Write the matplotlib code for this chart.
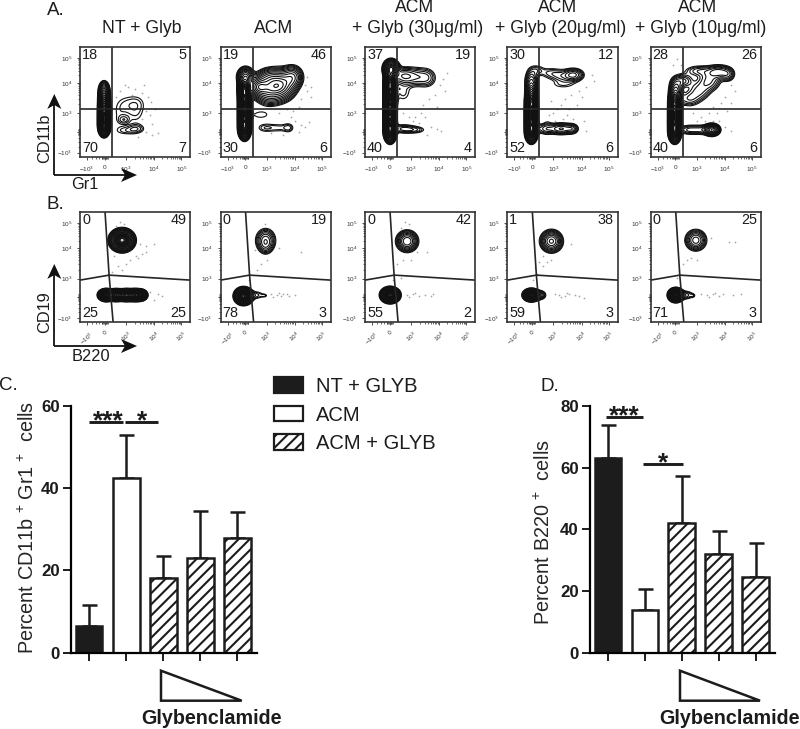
import numpy as np
import matplotlib
matplotlib.use('Agg')
import matplotlib.pyplot as plt
from matplotlib.patches import Patch, Polygon

plt.rcParams['font.family'] = ['Liberation Sans', 'DejaVu Sans']
plt.rcParams['mathtext.fontset'] = 'custom'
plt.rcParams['mathtext.rm'] = 'Liberation Sans'
plt.rcParams['mathtext.default'] = 'regular'
plt.rcParams['hatch.linewidth'] = 1.5

W, H = 800, 729
INK = '#1c1c1c'

# --- panels A / B, quadrant percentages: top left, top right, bottom left, bottom right
titles_a = [['NT + Glyb'], ['ACM'], ['ACM', '+ Glyb (30\u03bcg/ml)'],
            ['ACM', '+ Glyb (20\u03bcg/ml)'], ['ACM', '+ Glyb (10\u03bcg/ml)']]
title_x = [142, 274, 418, 560.5, 700.5]
quad_a = [[18, 5, 70, 7], [19, 46, 30, 6], [37, 19, 40, 4], [30, 12, 52, 6], [28, 26, 40, 6]]
quad_b = [[0, 49, 25, 25], [0, 19, 78, 3], [0, 42, 55, 2], [1, 38, 59, 3], [0, 25, 71, 3]]
box_left = [80, 220.5, 365, 507.3, 650.7]

# populations: x, y, sd x, sd y, weight (x, y on the 110 x 110 display scale of a plot)
pops_a = [
    [(24, 30, 2.6, 4.5, 1), (24, 38, 2.6, 5, 1), (24, 46, 2.6, 5, .9), (24, 54, 2.6, 5, .75),
     (24, 62, 2.7, 5, .45), (24, 68, 2.8, 4.5, .2),
     (46, 26, 8, 3.2, .05), (56, 28, 6, 3.2, .07), (44, 37, 3.5, 2.6, .06),
     (44, 52, 8, 8, .045), (57, 53, 7, 7, .05), (56, 40, 7, 7, .035), (38, 38, 5, 9, .03)],
    [(24, 28, 2.8, 5, 1), (24, 38, 2.8, 5, 1), (24, 48, 2.8, 5, 1), (24, 58, 2.8, 5, 1),
     (24, 68, 3, 5, 1), (25, 80, 4.2, 5, .4),
     (38, 70, 5, 5, .35), (48, 68, 8, 8, .35), (60, 72, 8, 8, .45), (72, 80, 5.5, 6, .25),
     (48, 80, 7, 5, .12), (40, 42, 8, 3.5, .045),
     (44, 29, 6, 3.3, .05), (58, 29, 8, 3.3, .05), (68, 29, 3.5, 3.3, .05)],
    [(25, 25, 2.8, 5, 1), (25, 35, 2.8, 5, 1), (25, 45, 2.8, 5, 1), (25, 55, 2.8, 5, 1),
     (25, 65, 2.8, 5, 1), (25, 75, 2.8, 5, 1), (26, 88, 3.8, 4.5, .7),
     (38, 81, 7, 5, .14), (50, 80, 8, 6, .1), (62, 79, 6, 6, .08), (38, 64, 6, 7, .05),
     (38, 28, 7, 2.8, .1), (50, 27, 7, 2.4, .07)],
    [(24, 25, 2.8, 5, 1), (24, 35, 2.8, 5, 1), (24, 45, 2.8, 5, 1), (24, 55, 2.8, 5, .9),
     (24, 65, 2.8, 5, .45), (24, 76, 3.5, 6, .2), (29, 87, 5, 3.5, .06),
     (44, 84, 8, 3.8, .06), (66, 82, 6, 3.8, .18), (54, 80, 7, 4, .06), (56, 72, 10, 3, .04),
     (40, 50, 3, 14, .035), (38, 28, 6, 3.5, .1), (54, 28, 7, 3.2, .22), (65, 28, 3.5, 3, .1)],
    [(24, 25, 2.8, 5, 1), (24, 35, 2.8, 5, 1), (24, 45, 2.8, 5, 1), (24, 55, 2.8, 5, .8),
     (25, 66, 3.5, 6, .3), (32, 76, 6, 4, .14),
     (38, 58, 7, 5, .09), (48, 66, 7, 6, .1), (58, 76, 7, 6, .13), (68, 85, 7, 4, .18),
     (48, 86, 9, 3.5, .09), (77, 82, 4, 4, .1),
     (38, 27, 6, 3, .1), (50, 27, 6, 3, .1), (61, 27, 4, 3, .5)],
]
pops_b = [
    [(42, 82, 5.4, 4.9, 1), (26, 27, 3.4, 2.6, 1), (36, 27, 3.8, 2.6, .9), (46, 27, 3.8, 2.6, .9),
     (55, 27, 3.8, 2.6, .9), (61, 27, 3, 2.6, .4)],
    [(45, 82, 5.5, 6.5, .15), (45, 76, 4, 5, .05), (23, 26, 4, 3.7, 1), (36, 27, 5, 2.8, .05),
     (44, 26.5, 2.2, 1.2, .03)],
    [(42, 81, 5.5, 5.4, .28), (25, 27, 4.1, 3.4, 1), (33, 27, 2, 3, .02)],
    [(44, 81, 5.6, 5.6, .3), (24, 27, 3.6, 2.7, 1), (33, 27, 3.4, 2.7, .1)],
    [(45, 82, 5.6, 5.6, .2), (25, 27, 3.3, 3, 1), (35, 27, 5, 2.8, .07), (42, 26.5, 1.6, 1.2, .03)],
]

# background events (the grey specks)
dots_a = [
    [(40, 66), (48, 70), (55, 68), (62, 64), (68, 60), (71, 55), (66, 46), (70, 42), (62, 38), (72, 33),
     (66, 25), (72, 22), (78, 24), (58, 20), (45, 72), (52, 62), (75, 48), (64, 72), (36, 60), (60, 30)],
    [(84, 72), (86, 66), (80, 58), (78, 50), (72, 46), (80, 32), (84, 30), (78, 25), (62, 22), (86, 80),
     (70, 40), (58, 44), (90, 70), (88, 35), (74, 36), (50, 24), (66, 48), (90, 60)],
    [(75, 72), (78, 78), (80, 66), (70, 62), (64, 58), (58, 52), (56, 44), (44, 40), (48, 36), (66, 30),
     (72, 28), (76, 26), (62, 22), (50, 40), (82, 84), (72, 50), (60, 40), (38, 44), (54, 34)],
    [(84, 82), (86, 76), (78, 70), (72, 66), (64, 62), (58, 58), (54, 52), (50, 48), (62, 48), (70, 52),
     (46, 44), (42, 42), (60, 42), (76, 36), (78, 26), (48, 36), (56, 38), (66, 38), (74, 60), (44, 56)],
    [(22, 92), (26, 98), (80, 72), (84, 66), (74, 60), (70, 54), (62, 50), (66, 44), (58, 44), (50, 40),
     (46, 36), (54, 36), (42, 44), (76, 46), (74, 30), (80, 26), (68, 36), (30, 92), (62, 36), (80, 54)],
]
dots_b = [
    [(40, 100), (44, 98), (36, 96), (60, 78), (66, 76), (74, 78), (62, 68), (58, 64), (50, 62), (46, 58),
     (38, 56), (34, 66), (42, 52), (70, 30), (78, 28), (82, 26), (74, 22), (56, 66), (66, 70), (32, 50)],
    [(52, 80), (58, 74), (46, 62), (40, 58), (36, 52), (50, 28), (56, 27), (62, 28), (68, 26), (74, 27),
     (52, 25), (60, 26), (80, 70), (66, 28), (34, 72), (28, 42), (58, 29), (44, 98)],
    [(40, 100), (44, 98), (36, 94), (52, 70), (46, 62), (38, 62), (32, 58), (42, 27), (48, 28), (54, 26),
     (60, 27), (66, 26), (44, 25), (50, 29), (62, 70), (36, 44), (68, 28), (28, 42)],
    [(36, 66), (32, 60), (28, 54), (36, 56), (30, 48), (48, 28), (52, 27), (58, 26), (62, 28), (68, 27),
     (54, 25), (72, 26), (64, 78), (44, 62), (40, 60), (76, 24), (60, 29), (26, 42)],
    [(40, 64), (36, 62), (32, 58), (28, 52), (50, 28), (56, 27), (62, 28), (68, 26), (72, 28), (82, 27),
     (58, 25), (64, 29), (78, 80), (84, 80), (60, 84), (46, 62), (26, 44), (90, 28)],
]

flow_ticks = [7, 24.7, 46, 74, 101]
flow_xlabels = ['$-10^{3}$', '0', '$10^{3}$', '$10^{4}$', '$10^{5}$']
flow_yticks = [4, 24.7, 43.4, 74, 99]
flow_ylabels = ['$-10^{3}$', '', '$10^{3}$', '$10^{4}$', '$10^{5}$']

# --- panels C / D, bar heights and the top of each error bar
means_c = [6.5, 42.5, 18.2, 23, 28]
tops_c = [11.5, 53, 23.5, 34.5, 34.3]
means_d = [63, 14, 42, 32, 24.5]
tops_d = [74, 20.5, 57.3, 39.5, 35.5]

fig = plt.figure(figsize=(W / 100, H / 100), dpi=100, facecolor='white')


def px_axes(left, top, right, bottom):
    return fig.add_axes([left / W, 1 - bottom / H, (right - left) / W, (bottom - top) / H])


def log_minor(ticks):
    minor = []
    for a, b in zip(ticks[2:-1], ticks[3:]):
        minor += [a + (b - a) * np.log10(k) for k in range(2, 10)]
    minor += [ticks[1] + d for d in (-3.2, -2.4, -1.6, -.8, .8, 1.6, 2.4, 3.2)]
    minor += [ticks[0] + (ticks[1] - ticks[0]) * f for f in (.3, .5, .7)]
    return minor


def flow_plot(left, top, pops, quad, dots, gate_x, gate_y, rot):
    ax = px_axes(left, top, left + 110.3, top + 109.7)
    gx, gy = np.meshgrid(np.linspace(0, 110, 441), np.linspace(0, 110, 441))
    z = np.zeros_like(gx)
    for x0, y0, sx, sy, w in pops:
        z += w * np.exp(-((gx - x0) ** 2) / (2 * sx ** 2) - ((gy - y0) ** 2) / (2 * sy ** 2))
    z /= z.max()
    # sparse contours in the thin parts, tight ones so that the dense cores go black
    levels = np.r_[np.geomspace(.028, .22, 9), np.linspace(.28, .97, 12)]
    ax.contour(gx, gy, z, levels=levels, colors='#111111', linewidths=.8)
    ax.scatter(*zip(*dots), s=1.6, color='#a8a8a8', linewidths=0, zorder=1)
    ax.plot(gate_x[0], gate_x[1], color='#262626', lw=1.2)
    ax.plot(gate_y[0], gate_y[1], color='#262626', lw=1.2)
    ax.set_xlim(0, 110)
    ax.set_ylim(0, 110)

    ax.set_xticks(flow_ticks)
    ax.set_xticklabels(flow_xlabels, fontsize=4.6, color='#333333', rotation=rot)
    ax.set_yticks(flow_yticks)
    ax.set_yticklabels(flow_ylabels, fontsize=4.6, color='#333333')
    ax.set_xticks(log_minor(flow_ticks), minor=True)
    ax.set_yticks(log_minor(flow_yticks), minor=True)
    ax.tick_params(which='major', length=2.2, width=.6, pad=3.5, color='#333333')
    ax.tick_params(which='minor', length=1.2, width=.5, color='#333333')
    for s in ax.spines.values():
        s.set_linewidth(1.2)
        s.set_color('#333333')

    for val, x, y, ha in zip(quad, (2, 106, 2, 106), (102, 102, 9, 9), ('left', 'right', 'left', 'right')):
        ax.text(x, y, str(val), fontsize=10.4, ha=ha, va='center', color=INK, zorder=5)
    return ax


for i in range(5):
    flow_plot(box_left[i], 47, pops_a[i], quad_a[i], dots_a[i],
              ([32, 32], [0, 110]), ([0, 110], [48, 48]), 0)
    flow_plot(box_left[i], 212.3, pops_b[i], quad_b[i], dots_b[i],
              ([25, 29, 33], [110, 47, 0]), ([0, 29, 110], [42, 47, 42]), 40)


def bar_panel(left, top, right, bottom, means, tops, ymax, yticks, ylabel, ylab_x, ylab_y):
    ax = px_axes(left, top, right, bottom)
    x = np.arange(5)
    styles = [('#1c1c1c', None), ('white', None), ('white', '///'), ('white', '///'), ('white', '///')]
    for xi, m, (fc, hatch) in zip(x, means, styles):
        ax.bar(xi, m, width=.72, facecolor=fc, edgecolor='#1c1c1c', hatch=hatch, linewidth=1.8, zorder=2)
    err = np.array(tops) - np.array(means)
    ax.errorbar(x, means, yerr=[np.zeros(5), err], fmt='none', ecolor='#1c1c1c', elinewidth=1.8,
                capsize=5.4, capthick=1.8, zorder=1)
    ax.set_xlim(-18 / 37, 4 + 19.5 / 37)
    ax.set_ylim(0, ymax)
    ax.set_xticks(x)
    ax.set_xticklabels([])
    ax.set_yticks(yticks)
    ax.set_yticklabels([str(t) for t in yticks], fontsize=12.2, fontweight='bold', color=INK)
    ax.tick_params(length=6, width=1.4, color='#1c1c1c', pad=2)
    ax.spines['top'].set_visible(False)
    ax.spines['right'].set_visible(False)
    ax.spines['left'].set_linewidth(1.6)
    ax.spines['bottom'].set_linewidth(1.6)
    ax.patch.set_alpha(0)
    fig.text(ylab_x / W, 1 - ylab_y / H, ylabel, rotation=90, ha='center', va='center',
             fontsize=14.3, color='#262626')
    return ax


bar_panel(71, 406, 257, 652.7, means_c, tops_c, 60, [0, 20, 40, 60],
          'Percent CD11b$^{\\,+\\,}$Gr1$^{\\,+\\,}$ cells', 28, 527.5)
bar_panel(590, 406, 775, 652.7, means_d, tops_d, 80, [0, 20, 40, 60, 80],
          'Percent B220$^{\\,+\\,}$ cells', 544, 532.5)

# overlay in picture pixels for the annotations
ov = fig.add_axes([0, 0, 1, 1], zorder=10)
ov.set_xlim(0, W)
ov.set_ylim(H, 0)
ov.axis('off')
ov.patch.set_alpha(0)

for x, lines in zip(title_x, titles_a):
    if len(lines) == 1:
        ov.text(x, 28, lines[0], fontsize=12.7, ha='center', va='center', color=INK)
    else:
        ov.text(x - 3, 7, lines[0], fontsize=12.7, ha='center', va='center', color=INK)
        ov.text(x, 28, lines[1], fontsize=12.7, ha='center', va='center', color=INK)

for label, x, y in [('A.', 47, 10), ('B.', 47, 204), ('C.', -1, 385), ('D.', 541, 386)]:
    ov.text(x, y, label, fontsize=13.5, ha='left', va='center', color=INK)


def axis_arrows(x0, y0, top_y, right_x):
    ov.plot([x0, x0], [top_y + 8, y0], color='#111111', lw=1.3, solid_capstyle='butt')
    ov.plot([x0, right_x - 8], [y0, y0], color='#111111', lw=1.3, solid_capstyle='butt')
    ov.add_patch(Polygon([(x0, top_y), (x0 + 7, top_y + 15), (x0, top_y + 11), (x0 - 7, top_y + 15)],
                         closed=True, color='#111111', lw=0))
    ov.add_patch(Polygon([(right_x, y0), (right_x - 16, y0 + 7), (right_x - 12, y0), (right_x - 16, y0 - 7)],
                         closed=True, color='#111111', lw=0))


axis_arrows(54.3, 175, 94, 137)
axis_arrows(54.3, 346, 264, 137)
ov.text(45, 138, 'CD11b', rotation=90, fontsize=11.8, ha='center', va='center', color=INK)
ov.text(85, 184, 'Gr1', fontsize=11.8, ha='center', va='center', color=INK)
ov.text(45, 312, 'CD19', rotation=90, fontsize=11.8, ha='center', va='center', color=INK)
ov.text(91, 356, 'B220', fontsize=11.8, ha='center', va='center', color=INK)

for x0, x1, y in [(89, 122.7, 422.3), (125, 158, 422.3), (606, 642.7, 417.3), (643, 682.7, 464)]:
    ov.plot([x0, x1], [y, y], color='#1c1c1c', lw=2.1, solid_capstyle='butt')
for text, x, y in [('***', 108.7, 421), ('*', 142, 421), ('***', 624, 416), ('*', 662.7, 463)]:
    ov.text(x, y, text, fontsize=19, fontweight='bold', ha='center', va='center', color=INK)

for xl, xr, xt in [(161, 241.7, 211.7), (680, 760, 729)]:
    ov.add_patch(Polygon([(xl, 670.7), (xl, 700.7), (xr, 700.7)], closed=True, fill=False,
                         edgecolor='#1c1c1c', lw=1.8, joinstyle='miter'))
    ov.text(xt, 718, 'Glybenclamide', fontsize=14.2, fontweight='bold', ha='center', va='center', color=INK)

handles = [Patch(facecolor='#1c1c1c', edgecolor='#1c1c1c', lw=1.6),
           Patch(facecolor='white', edgecolor='#1c1c1c', lw=1.6),
           Patch(facecolor='white', edgecolor='#1c1c1c', hatch='///', lw=1.6)]
fig.legend(handles=handles, labels=['NT + GLYB', 'ACM', 'ACM + GLYB'], loc='upper left',
           bbox_to_anchor=(266 / W, 1 - 369 / H), frameon=False, fontsize=14.5,
           handlelength=1.45, handleheight=.82, handletextpad=.65, labelspacing=.47,
           borderaxespad=0, labelcolor=INK)

fig.savefig('out.png', dpi=100)
